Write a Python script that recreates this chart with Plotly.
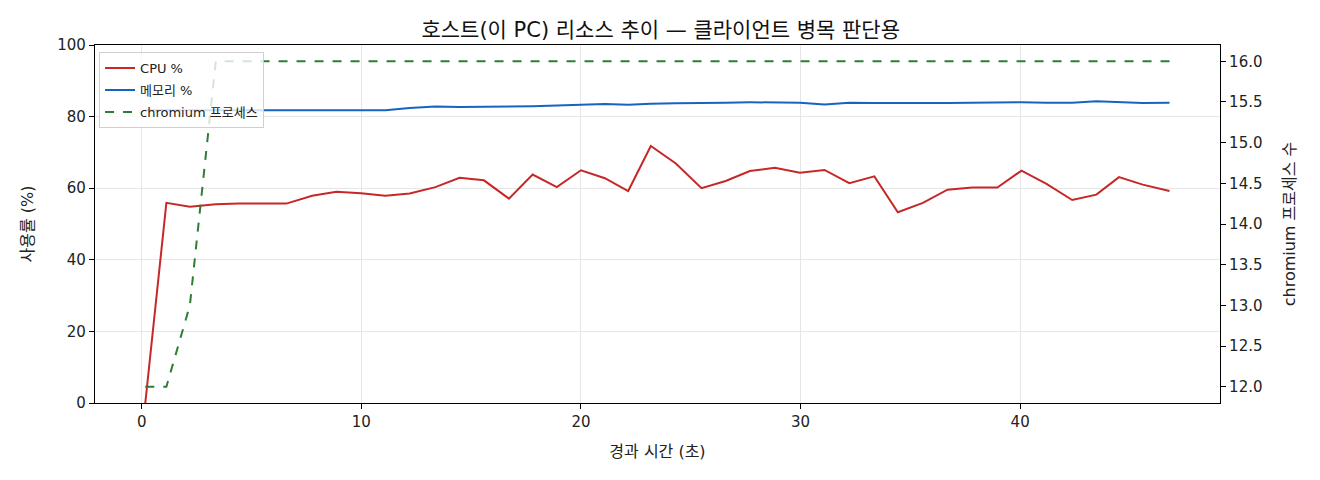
import plotly.graph_objects as go

# 경과 시간 (초) - 샘플 시점
t_sec = [0.16, 1.12, 2.19, 3.37, 4.42, 5.48, 6.58, 7.76, 8.86, 9.98,
         11.09, 12.2, 13.37, 14.47, 15.58, 16.72, 17.8, 18.9, 20.0, 21.09,
         22.15, 23.18, 24.32, 25.49, 26.59, 27.69, 28.83, 29.97, 31.09, 32.22,
         33.36, 34.43, 35.57, 36.69, 37.82, 38.96, 40.06, 41.2, 42.37, 43.47,
         44.5, 45.58, 46.8]

cpu_pct = [0.0, 55.9, 54.8, 55.5, 55.7, 55.6, 55.7, 57.9, 59.0, 58.6,
           57.9, 58.5, 60.3, 62.9, 62.2, 57.1, 63.8, 60.3, 65.0, 62.8,
           59.2, 71.8, 66.9, 60.0, 62.0, 64.8, 65.7, 64.3, 65.1, 61.4,
           63.3, 53.3, 55.9, 59.6, 60.2, 60.2, 64.9, 61.2, 56.7, 58.2,
           63.1, 61.0, 59.2]

mem_pct = [81.8, 81.8, 81.8, 81.8, 81.9, 81.9, 81.9, 82.0, 81.9, 81.9,
           81.8, 82.4, 82.8, 82.7, 82.7, 82.9, 82.9, 83.1, 83.4, 83.5,
           83.3, 83.6, 83.7, 83.7, 83.9, 84.0, 83.9, 83.9, 83.4, 83.9,
           83.8, 83.9, 83.8, 83.8, 83.9, 84.0, 84.0, 83.9, 83.9, 84.3,
           84.1, 83.8, 83.9]

chromium_cnt = [12, 12, 13, 16, 16, 16, 16, 16, 16, 16,
                16, 16, 16, 16, 16, 16, 16, 16, 16, 16,
                16, 16, 16, 16, 16, 16, 16, 16, 16, 16,
                16, 16, 16, 16, 16, 16, 16, 16, 16, 16,
                16, 16, 16]

FONT = "DejaVu Sans, Noto Sans CJK KR"

fig = go.Figure()
fig.add_trace(go.Scatter(x=t_sec, y=cpu_pct, mode="lines", name="CPU %", legendgroup="a",
                         line=dict(color="#c62828", width=2)))
fig.add_trace(go.Scatter(x=t_sec, y=mem_pct, mode="lines", name="메모리 %", legendgroup="b",
                         line=dict(color="#1565c0", width=2)))
fig.add_trace(go.Scatter(x=t_sec, y=chromium_cnt, mode="lines", name="chromium 프로세스",
                         legendgroup="c", yaxis="y2",
                         line=dict(color="#2e7d32", width=2, dash="dash")))

axis_common = dict(showline=True, linecolor="black", linewidth=1.2,
                   ticks="outside", ticklen=5, tickcolor="black",
                   zeroline=False, tickfont=dict(size=15, color="#222"))

# 페이지 여백(8px) 보정: 폭/높이를 8px 줄이고 좌/상 여백도 8px 줄임
fig.update_layout(
    width=1312, height=472,
    margin=dict(l=87, r=100, t=37, b=77),
    paper_bgcolor="white", plot_bgcolor="white",
    font=dict(family=FONT, size=15, color="#222"),
    title=dict(text="호스트(이 PC) 리소스 추이 — 클라이언트 병목 판단용",
               x=0.4975, xanchor="center", y=0.955, yanchor="middle",
               font=dict(size=21, color="#111")),
    xaxis=dict(range=[-2.13, 49.1], dtick=10, mirror=True,
               showgrid=True, gridcolor="#e6e6e6", gridwidth=1,
               title=dict(text="경과 시간 (초)", font=dict(size=16), standoff=15),
               **axis_common),
    yaxis=dict(range=[0, 100], dtick=20,
               showgrid=True, gridcolor="#e6e6e6", gridwidth=1,
               title=dict(text="사용률 (%)", font=dict(size=16), standoff=19),
               **axis_common),
    yaxis2=dict(range=[11.8, 16.2], dtick=0.5, tickformat=".1f",
                overlaying="y", side="right", showgrid=False,
                title=dict(text="chromium 프로세스 수", font=dict(size=16), standoff=22),
                **axis_common),
    legend=dict(x=0.0036, y=0.98, xanchor="left", yanchor="top",
                bgcolor="rgba(255,255,255,0.8)", bordercolor="#d0d0d0", borderwidth=1,
                font=dict(size=13), tracegroupgap=2, itemwidth=30),
    showlegend=True,
)

fig.write_html("out.html")
